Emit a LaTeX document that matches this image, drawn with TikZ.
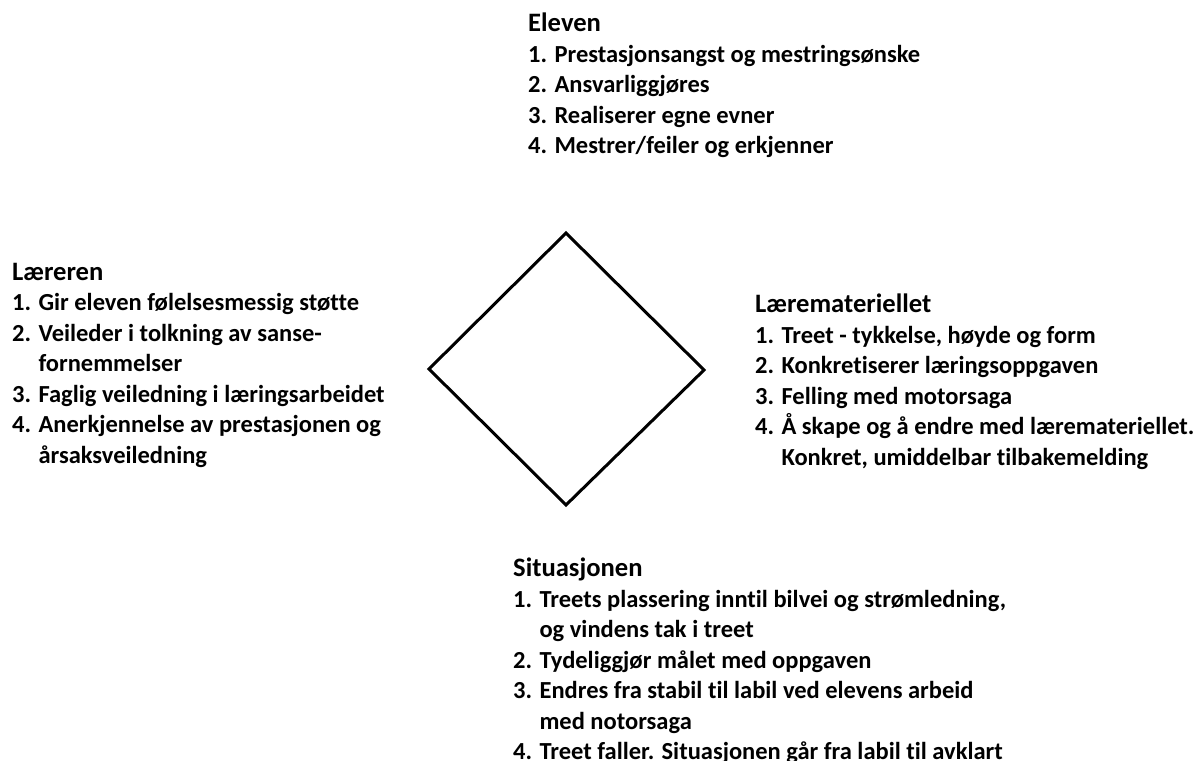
\documentclass[tikz,border=0pt]{standalone}
\usepackage{fontspec}
\setmainfont{Carlito}[Ligatures=NoCommon]
\newcommand{\blockhead}[1]{{\fontsize{26.6}{30.6}\selectfont #1}}
\begin{document}
\begin{tikzpicture}[x=1pt,y=-1pt,
  block/.style={align=left, inner sep=0pt, anchor=north west,
    font=\bfseries\fontsize{24.5}{30.5}\selectfont},
  frame/.style={line width=3pt, line join=miter}]
% canvas
\useasboundingbox (0,0) rectangle (1196,760);
\clip (0,0) rectangle (1196,760);
\fill[white] (0,0) rectangle (1196,760);

% central diamond
\coordinate (top) at (566,233);
\coordinate (right) at (704,370);
\coordinate (bottom) at (566,505);
\coordinate (left) at (429,369);
\draw[frame] (top) -- (right) -- (bottom) -- (left) -- cycle;

% the four text blocks
\node[block] (eleven) at (528,13) {\blockhead{Eleven}\\
1. Prestasjonsangst og mestringsønske\\
2. Ansvarliggjøres\\
3. Realiserer egne evner\\
4. Mestrer/feiler og erkjenner};

\node[block] (laereren) at (12,263) {\blockhead{Læreren}\\
1. Gir eleven følelsesmessig støtte\\
2. Veileder i tolkning av sanse-\\
\phantom{1. }fornemmelser\\
3. Faglig veiledning i læringsarbeidet\\
4. Anerkjennelse av prestasjonen og\\
\phantom{1. }årsaksveiledning};

\node[block] (materiell) at (755,294) {\blockhead{Læremateriellet}\\
1. Treet - tykkelse, høyde og form\\
2. Konkretiserer læringsoppgaven\\
3. Felling med motorsaga\\
4. Å skape og å endre med læremateriellet.\\
\phantom{1. }Konkret, umiddelbar tilbakemelding};

\node[block] (situasjonen) at (513,558) {\blockhead{Situasjonen}\\
1. Treets plassering inntil bilvei og strømledning,\\
\phantom{1. }og vindens tak i treet\\
2. Tydeliggjør målet med oppgaven\\
3. Endres fra stabil til labil ved elevens arbeid\\
\phantom{1. }med notorsaga\\
4. Treet faller. Situasjonen går fra labil til avklart};
\end{tikzpicture}
\end{document}
